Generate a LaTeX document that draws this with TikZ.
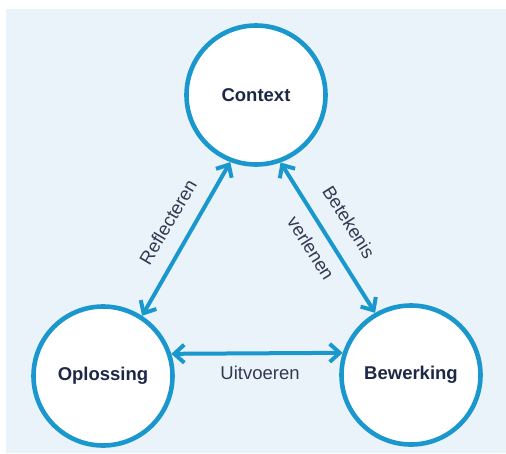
\documentclass[tikz,border=0pt]{standalone}
\usepackage{fontspec}
\setmainfont{Liberation Sans}
\usetikzlibrary{arrows.meta}
\definecolor{bgblue}{HTML}{EAF3FA}
\definecolor{ringblue}{HTML}{1A98CE}
\definecolor{navy}{HTML}{1C2846}
\definecolor{labelgray}{HTML}{323A50}
\tikzset{
  phase/.style={circle, draw=ringblue, line width=4.6pt, fill=white,
    minimum size=139pt, inner sep=0pt, text=navy,
    font=\fontsize{18.5}{20}\selectfont\bfseries},
  link/.style={draw=ringblue, line width=4pt,
    {Straight Barb[length=10pt,width=18pt,line width=4pt]}-{Straight Barb[length=10pt,width=18pt,line width=4pt]}},
  lbl/.style={text=labelgray, font=\fontsize{18.5}{20}\selectfont, inner sep=0pt}
}
\begin{document}
\begin{tikzpicture}[x=1pt,y=1pt]
\useasboundingbox (0,0) rectangle (506,-453);
\fill[bgblue] (6,-9) rectangle (506,-453);
\node[phase] (ctx) at (256,-95) {Context};
\node[phase] (opl) at (103,-376) {Oplossing};
\node[phase] (bew) at (411,-375) {Bewerking};
\draw[link] (opl.18) -- (bew.162);
\draw[link] (opl.57.6) -- (ctx.249.6);
\draw[link] (ctx.290.6) -- (bew.120);
\node[lbl] (uit) at (260,-373) {Uitvoeren};
\node[lbl, rotate=59.5] (refl) at (168,-222) {Reflecteren};
\node[lbl, rotate=-57.6] (bet) at (349,-222) {Betekenis};
\node[lbl, rotate=-57.6] (verl) at (311,-248) {verlenen};
\end{tikzpicture}
\end{document}
